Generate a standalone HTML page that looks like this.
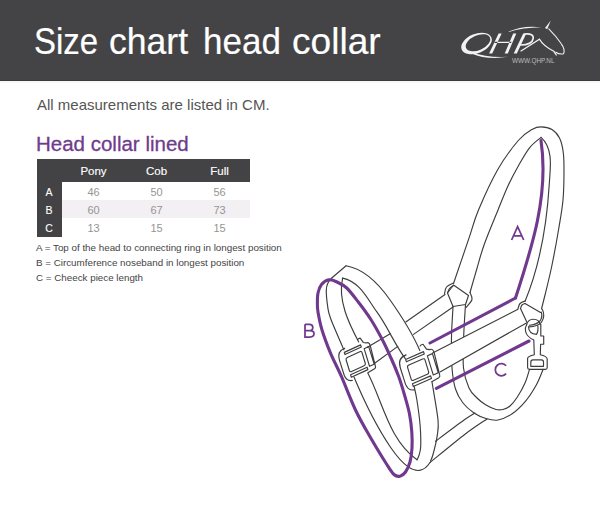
<!DOCTYPE html>
<html><head><meta charset="utf-8">
<style>
html,body{margin:0;padding:0;}
body{width:600px;height:514px;position:relative;overflow:hidden;background:#fff;font-family:"Liberation Sans",sans-serif;}
.hdr{position:absolute;left:0;top:0;width:600px;height:80px;background:#444446;border-bottom:1px solid #3c3c3e;box-shadow:0 2px 0 #f7f7f7;}
.t{position:absolute;white-space:nowrap;line-height:1;}
.tw{top:24px;font-size:36px;color:#fff;-webkit-text-stroke:0.2px #fff;transform-origin:0 0;}
#sub{left:37px;top:97px;font-size:15px;color:#555;}
#h2{left:36px;top:133.6px;font-size:20.5px;color:#6f3b8c;-webkit-text-stroke:0.3px #6f3b8c;}
.tbl{position:absolute;left:36.5px;top:159px;}
.dk{position:absolute;background:#434345;}
.row{position:absolute;}
.th{position:absolute;font-size:11.5px;color:#fff;font-weight:normal;-webkit-text-stroke:0.15px #fff;text-align:center;width:63px;line-height:1;}
.td{position:absolute;font-size:11px;color:#959595;text-align:center;width:63px;line-height:1;}
.rl{position:absolute;font-size:10.5px;color:#fff;font-weight:normal;-webkit-text-stroke:0.1px #fff;text-align:center;width:25px;line-height:1;}
.lg{position:absolute;left:36px;font-size:9.8px;color:#444;white-space:nowrap;line-height:1;}
svg{position:absolute;left:0;top:0;}
</style></head><body>
<div class="hdr"></div>
<div class="t tw" style="left:33.5px;transform:scaleX(0.915)">Size</div><div class="t tw" style="left:109px;transform:scaleX(0.988)">chart</div><div class="t tw" style="left:202.5px;transform:scaleX(0.972)">head</div><div class="t tw" style="left:292.2px;transform:scaleX(1.03)">collar</div>
<div class="t" id="sub">All measurements are listed in CM.</div>
<div class="t" id="h2">Head collar lined</div>

<div class="dk" style="left:36.5px;top:159px;width:213.5px;height:22.5px"></div>
<div class="dk" style="left:36.5px;top:159px;width:25.5px;height:78px"></div>
<div class="row" style="left:62px;top:200px;width:188px;height:18.3px;background:#f2f0f2"></div>
<div class="th" style="left:62px;top:165.5px">Pony</div>
<div class="th" style="left:125px;top:165.5px">Cob</div>
<div class="th" style="left:188px;top:165.5px">Full</div>
<div class="rl" style="left:36.5px;top:187px">A</div>
<div class="rl" style="left:36.5px;top:204.5px">B</div>
<div class="rl" style="left:36.5px;top:223px">C</div>
<div class="td" style="left:62px;top:186.5px">46</div>
<div class="td" style="left:125px;top:186.5px">50</div>
<div class="td" style="left:188px;top:186.5px">56</div>
<div class="td" style="left:62px;top:204.5px">60</div>
<div class="td" style="left:125px;top:204.5px">67</div>
<div class="td" style="left:188px;top:204.5px">73</div>
<div class="td" style="left:62px;top:222.5px">13</div>
<div class="td" style="left:125px;top:222.5px">15</div>
<div class="td" style="left:188px;top:222.5px">15</div>

<div class="lg" style="top:243px">A = Top of the head to connecting ring in longest position</div>
<div class="lg" style="top:258px">B = Circumference noseband in longest position</div>
<div class="lg" style="top:273px">C = Cheeck piece length</div>




































<!--DRAW-->
<svg width="600" height="514" viewBox="0 0 600 514">
<g fill="none" stroke="#3d3d3f" stroke-width="1.15" stroke-linejoin="round" stroke-linecap="round">
<path d="M453.5,283.5 C456.1,276.0 464.7,250.7 468.9,238.4 C473.1,226.2 473.7,221.4 478.5,210.0 C483.3,198.6 490.9,181.6 497.5,170.0 C504.1,158.4 512.5,147.3 518.3,140.5 C524.1,133.7 528.7,131.5 532.5,129.2 C536.3,126.9 537.8,126.8 541.0,126.8 C544.2,126.8 548.9,127.6 552.0,129.5 C555.1,131.4 557.6,134.2 559.5,138.0 C561.4,141.8 562.5,146.7 563.2,152.0 C564.0,157.3 564.0,162.0 564.0,170.0 C564.0,178.0 563.9,190.0 563.0,200.0 C562.1,210.0 560.3,219.2 558.5,230.0 C556.7,240.8 554.2,254.2 552.0,265.0 C549.8,275.8 546.8,287.7 545.0,295.0 C543.2,302.3 542.1,306.7 541.5,309.0"/>
<path d="M470.0,292.5 C471.1,288.8 474.1,278.1 476.5,270.0 C478.9,261.9 480.7,254.2 484.3,244.2 C487.9,234.2 494.0,219.9 498.0,210.0 C502.0,200.1 505.0,192.3 508.4,185.0 C511.8,177.7 514.8,172.2 518.3,166.0 C521.8,159.8 525.9,152.4 529.7,147.6 C533.5,142.8 539.1,139.1 541.0,137.4"/>
<path d="M541.0,137.4 C554.0,148.5 550.1,169.7 549.2,185.0 C546.8,224.6 540.2,264.4 525.0,301.5"/>
<path d="M453.5,285.0 C453.5,285.0 468.5,295.5 468.5,295.5 C468.5,295.5 465.5,304.5 465.5,304.5 C465.5,304.5 453.0,306.5 453.0,306.5 C453.0,306.5 447.5,293.0 447.5,293.0 C447.5,293.0 453.5,285.0 453.5,285.0"/>
<path d="M444.5,294.0 C444.8,292.8 445.0,288.8 446.5,287.0 C448.0,285.2 452.3,283.7 453.5,283.0"/>
<path d="M447.5,293.0 C447.8,292.2 448.5,289.8 449.5,288.5 C450.5,287.2 452.8,286.0 453.5,285.5"/>
<path d="M470.0,292.5 C470.3,293.7 472.7,297.0 472.0,299.5 C471.3,302.0 467.0,306.2 466.0,307.5"/>
<path d="M525.0,303.5 L540.5,312.5"/>
<path d="M520.5,308.5 L527.0,322.5"/>
<path d="M518.0,308.5 C518.3,307.7 518.8,304.8 520.0,303.5 C521.2,302.2 524.2,301.4 525.0,301.0"/>
<path d="M520.5,308.5 C520.8,307.9 521.2,305.8 522.0,305.0 C522.8,304.2 524.5,303.8 525.0,303.5"/>
<path d="M445.0,294.5 L405.8,322.0"/>
<path d="M390.2,333.7 L367.0,347.5"/>
<path d="M453.0,307.0 L413.5,334.4"/>
<path d="M397.8,346.4 L375.0,363.0"/>
<path d="M343.9,349.8 C341.7,344.6 333.4,325.9 330.7,318.7 C328.0,311.5 328.4,311.5 327.7,306.7 C327.0,301.9 326.2,293.9 326.3,290.0 C326.4,286.1 327.1,285.0 328.0,283.0 C328.9,281.0 331.1,278.8 331.7,278.0"/>
<path d="M331.7,278.0 L346.1,265.8"/>
<path d="M346.1,265.8 C365.0,269.1 379.1,284.4 390.1,300.0 C401.5,316.2 412.2,332.6 419.8,350.5"/>
<path d="M358.7,342.0 C348.7,323.0 337.6,300.3 342.6,278.1"/>
<path d="M342.6,278.1 C359.8,281.6 367.4,299.0 376.7,311.7 C387.6,326.5 394.3,343.9 405.3,358.6"/>
<path d="M354.0,377.0 C364.2,401.3 375.6,425.3 390.7,447.5 C399.0,459.6 416.9,482.7 430.0,462.5"/>
<path d="M430.0,462.5 C435.7,457.9 454.9,441.9 464.4,434.7 C473.9,427.4 483.2,421.6 487.0,419.0"/>
<path d="M367.8,373.0 C382.8,401.9 389.0,440.2 417.0,459.8"/>
<path d="M417.0,459.8 C417.4,459.0 418.5,457.2 419.1,455.0 C419.7,452.8 420.5,451.4 420.7,446.4 C420.9,441.4 420.7,432.7 420.1,425.0 C419.5,417.3 417.9,406.5 416.9,400.0 C415.9,393.5 414.5,388.3 414.0,386.0"/>
<path d="M432.0,382.0 C433.0,388.3 437.1,410.8 438.0,419.8 C438.9,428.9 437.9,430.5 437.1,436.3 C436.3,442.1 434.1,450.4 433.0,454.5 C431.9,458.6 430.9,460.0 430.5,461.1"/>
<path d="M435.5,441.3 C440.3,437.7 457.8,424.5 464.4,419.8 C471.0,415.1 473.2,414.1 475.0,413.0"/>
<path d="M453.0,306.5 C452.8,311.5 451.7,326.2 451.5,336.5 C451.3,346.8 451.3,359.2 452.0,368.0 C452.7,376.8 453.7,383.2 455.5,389.0 C457.3,394.8 459.9,399.0 463.0,403.0 C466.1,407.0 470.2,410.4 474.0,413.0 C477.8,415.6 482.0,417.3 486.0,418.5 C490.0,419.7 493.7,420.8 498.0,420.0 C502.3,419.2 507.2,417.1 511.8,414.0 C516.4,410.9 521.3,406.1 525.4,401.3 C529.5,396.5 533.3,390.3 536.3,385.0 C539.2,379.7 542.0,371.9 543.1,369.3"/>
<path d="M465.5,304.5 C465.2,309.8 464.0,325.9 463.7,336.5 C463.4,347.1 462.6,359.4 463.5,368.0 C464.4,376.6 466.8,383.0 469.0,388.0 C471.2,393.0 474.2,395.2 477.0,398.0 C479.8,400.8 482.8,403.1 486.0,405.0 C489.2,406.9 493.2,408.8 496.0,409.5 C498.8,410.2 500.7,410.1 503.0,409.5 C505.3,408.9 507.6,408.1 510.0,406.0 C512.4,403.9 514.7,401.0 517.2,397.2 C519.7,393.4 523.0,387.6 525.0,383.0 C527.0,378.4 528.8,371.6 529.5,369.3"/>
<path d="M445,346.5 L506,315.3 L514,330 L446.5,368.6Z" fill="#fff" stroke="none"/>
<path d="M518.0,309.2 L432.6,352.9"/>
<path d="M526.0,323.2 L440.4,371.8"/>
<path d="M542.4,309.4 Q545.5,315.5 541.5,322.3 Q537.5,326.3 529.1,326.9"/>
<path d="M541.2,312 Q543,316.5 540,321 Q536.5,324.8 529.3,325.3"/>
<path d="M526.5,325.5 Q527.5,319.2 533.4,319.2 Q539.3,319.2 540.3,325"/>
<path d="M526.5,325 Q524.8,327.5 525.6,331.5 Q526.6,336.5 533.8,340.1 L534.3,354.7 Q528,356 527.6,358.4 V367.5 Q527.6,369.3 529.5,369.3 H545.4 Q547.2,369.3 547.2,367.5 V359 Q546.8,356 540.3,354.7 L540.6,344.2 L543.7,344.2 L543.7,336 L540.8,336 L540.8,324.3"/>
<path d="M528.5,326.7 Q528.8,333.8 536.5,334.4 Q538.6,331 537.8,325.5"/>
<path d="M530.8,366.3 V362 Q530.8,359.8 533,359.8 H541.5 Q543.5,359.8 543.5,362 V366.3 Z"/>
<path transform="matrix(0.9171 -0.3987 0.2924 0.9563 418.10 369.60)" d="M-7.2,-18.4 Q-16.6,-19 -16.6,-8.9 L-16.4,8.3 Q-16,15.5 -9.6,17.2 M9.6,16.7 L17.5,15.8 Q19.2,15.5 19.2,13.8 L20.4,-9.4 Q20.5,-13.8 17,-13.8 L14.1,-15.6 L12.2,-21.4 Q10,-22 8.8,-20.9 M-7.5,-8 H7.5 Q9.5,-8 9.5,-6 V6 Q9.5,8 7.5,8 H-7.5 Q-9.5,8 -9.5,6 V-6 Q-9.5,-8 -7.5,-8Z M-9,-14.4 H10.5 V-11.9 H-9 Z M-9.6,10.8 H10.2 V13.6 H-9.6 Z M13,-9 H18.5 V11 H13 Z" vector-effect="non-scaling-stroke"/>
<path transform="matrix(0.8358 -0.3844 0.2690 0.8798 355.70 361.60)" d="M-7.2,-18.4 Q-16.6,-19 -16.6,-8.9 L-16.4,8.3 Q-16,15.5 -9.6,17.2 M9.6,16.7 L17.5,15.8 Q19.2,15.5 19.2,13.8 L20.4,-9.4 Q20.5,-13.8 17,-13.8 L14.1,-15.6 L12.2,-21.4 Q10,-22 8.8,-20.9 M-7.5,-8 H7.5 Q9.5,-8 9.5,-6 V6 Q9.5,8 7.5,8 H-7.5 Q-9.5,8 -9.5,6 V-6 Q-9.5,-8 -7.5,-8Z M-9,-14.4 H10.5 V-11.9 H-9 Z M-9.6,10.8 H10.2 V13.6 H-9.6 Z M13,-9 H18.5 V11 H13 Z" vector-effect="non-scaling-stroke"/>
</g>
<g fill="none" stroke="#70398e" stroke-width="3.1" stroke-linecap="round" stroke-linejoin="round">
<path d="M541.0,140.5 C549.1,194.2 532.0,247.6 515.5,298.0"/>
<path d="M515.5,298.0 L430.0,343.0"/>
<path d="M529.0,341.0 L436.4,388.4"/>
<path d="M329.0,279.8 C331.6,279.4 334.1,280.6 337.0,282.0 C339.9,283.4 343.1,284.7 346.7,288.0 C350.2,291.3 354.2,296.7 358.3,302.0 C362.4,307.3 367.2,313.7 371.2,320.0 C375.2,326.3 379.2,333.7 382.5,340.0 C385.8,346.3 388.3,352.0 391.0,358.0 C393.7,364.0 396.2,369.8 398.5,376.0 C400.8,382.2 402.7,388.7 404.5,395.0 C406.3,401.3 408.3,407.8 409.5,414.0 C410.7,420.2 411.4,426.3 411.8,432.0 C412.2,437.7 412.3,443.0 412.0,448.0 C411.7,453.0 411.1,458.0 410.0,462.0 C408.9,466.0 407.2,469.6 405.5,472.0 C403.8,474.4 401.9,475.8 400.0,476.2 C398.1,476.6 396.2,476.5 394.0,474.5 C391.8,472.5 390.7,470.6 386.5,464.0 C382.3,457.4 374.2,444.0 369.0,435.0 C363.8,426.0 360.1,419.7 355.5,410.0 C350.9,400.3 345.6,386.1 341.5,376.7 C337.4,367.3 333.9,361.2 330.6,353.4 C327.4,345.6 324.1,336.9 322.0,330.0 C319.9,323.1 318.8,316.5 318.0,312.0 C317.2,307.5 317.4,306.2 317.4,303.0 C317.4,299.8 317.3,296.1 318.0,293.0 C318.7,289.9 319.7,286.7 321.5,284.5 C323.3,282.3 326.4,280.2 329.0,279.8Z"/>
</g>
<g fill="none" stroke="#70398e" stroke-width="1.75" stroke-linecap="butt" stroke-linejoin="miter">
<path d="M511.6,240 L517.6,226.6 L523.7,240 M513.5,235.9 H521.9"/>
<path d="M305,324.3 V337 H309.8 Q314,337 314,333.5 Q314,330.6 309.8,330.6 H305 M305,324.3 H309.3 Q312.8,324.3 312.8,327.4 Q312.8,330.6 309.3,330.6"/>
<path d="M506.1,365.8 A6.1,6.1 0 1,0 506.1,373.6"/>
</g>
<g fill="#f2f2f2" fill-rule="evenodd">
<path d="M461.7,49.5 a16,9.6 -22 1,0 29.7,-12 a16,9.6 -22 1,0 -29.7,12Z M466.1,48 a13,7.3 -24 1,0 23.8,-10.6 a13,7.3 -24 1,0 -23.8,10.6Z"/>
<path d="M472,52.2 Q486,57.8 508,56.8 Q487,60.2 471.5,53.4Z"/>
<path d="M498.6,33.5 L501.7,33.5 L492.2,53.5 L489.1,53.5Z M513.2,33.5 L516.3,33.5 L507.8,53.5 L504.7,53.5Z M495,41.8 L511.5,41.8 L511.1,43.1 L494.5,43.1Z"/>
<path d="M523.2,33.5 L526.3,33.5 L516.8,53.5 L513.7,53.5Z"/>
<path d="M506,32.8 Q522,24.6 541.5,27.3 Q522,27.6 506,32.8Z"/>
<path d="M545,28 L550.8,20.4 L547.2,29.2Z"/>
</g>
<g fill="none" stroke="#f0f0f0" stroke-width="1.1" stroke-linecap="round">
<path stroke-width="1.6" d="M525,34 Q533.8,33.3 533.2,38.5 Q532.2,44.8 520.5,45"/>
<path d="M548.8,28.8 Q556,36 561.3,43.8 Q565.5,49.5 563.5,53.8 Q559,54.5 555.8,52.2"/>
<path stroke-width="1.3" d="M521,51 Q532,44 539.5,39.2 Q543,45.5 553.8,51.3 L556.3,55"/>
</g>
<text x="512" y="63" font-family="Liberation Sans" font-size="7.3" fill="#bdbdbd" textLength="42.5" lengthAdjust="spacingAndGlyphs">WWW.QHP.NL</text>
</svg>
<!--/DRAW-->
</body></html>
